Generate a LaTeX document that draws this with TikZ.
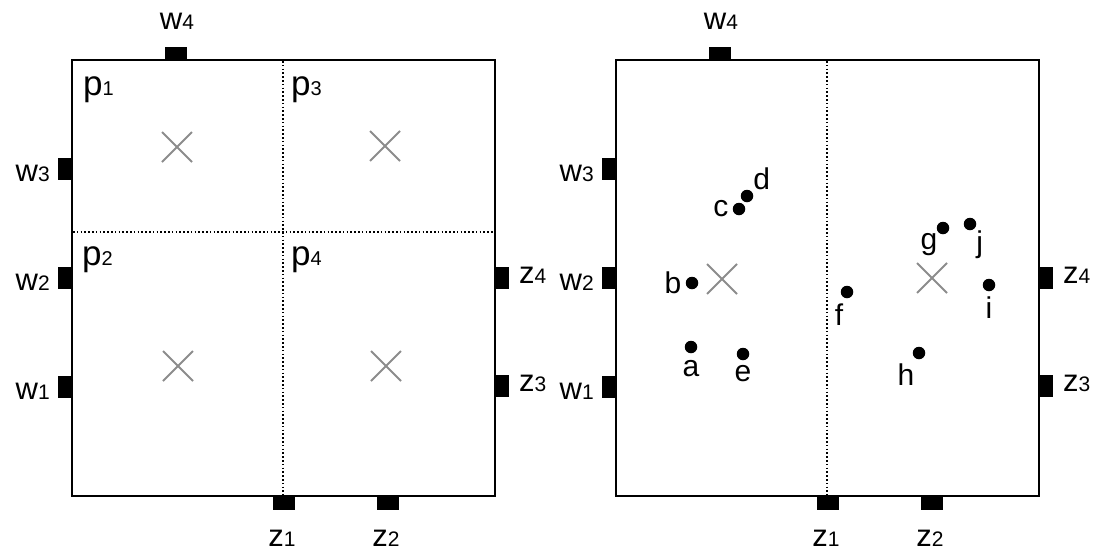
\documentclass[tikz,border=0pt]{standalone}
\usepackage{fontspec}
\setmainfont{Liberation Sans}
\usetikzlibrary{shapes.misc}

\newcommand{\portlab}[2]{#1{\fontsize{21}{21}\selectfont #2}}
\newcommand{\regionlab}[2]{#1{\fontsize{20}{20}\selectfont #2}}

\tikzset{
  frame/.style={line width=2.4pt},
  part/.style={line width=1.6pt, dash pattern=on 1.6pt off 2.2pt},
  hport/.style={fill=black, inner sep=0pt, minimum width=22pt, minimum height=13pt},
  vport/.style={fill=black, inner sep=0pt, minimum width=14pt, minimum height=22pt},
  portname/.style={inner sep=0pt, font=\fontsize{31}{31}\selectfont},
  region/.style={inner sep=0pt, font=\fontsize{35}{35}\selectfont},
  centre/.style={cross out, draw=black!45, line width=2pt, inner sep=0pt, minimum size=28pt},
  device/.style={circle, fill=black, inner sep=0pt, minimum size=12.5pt},
  devname/.style={inner sep=1pt, label distance=3pt, font=\fontsize{30}{30}\selectfont}
}

\begin{document}
\begin{tikzpicture}[x=1pt,y=-1pt]
  \useasboundingbox (0,0) rectangle (1102,552);

  \foreach \s/\side in {0/l,544/r}
  {
    % Frame and partition
    \draw[frame] (72+\s,60) rectangle (495+\s,496);
    \draw[part] (283+\s,61) -- (283+\s,495);

    % Top port
    \node[hport] (w4\side) at (176+\s,53.5) {};
    \node[portname,anchor=base] (w4\side-text) at (177+\s,29) {\portlab{w}{4}};

    % Left ports
    \foreach \i/\y in {3/169,2/278,1/387}
    {
      \node[vport] (w\i\side) at (65+\s,\y) {};
      \node[portname,anchor=base east] (w\i\side-text) at (50+\s,\y+12) {\portlab{w}{\i}};
    }

    % Right ports
    \foreach \i/\y in {4/278,3/386}
    {
      \node[vport] (z\i\side) at (501.5+\s,\y) {};
      \node[portname,anchor=base west] (z\i\side-text) at (519+\s,\y+5) {\portlab{z}{\i}};
    }

    % Bottom ports
    \foreach \i/\x in {1/284,2/388}
    {
      \node[hport] (z\i\side) at (\x+\s,503) {};
      \node[portname,anchor=base] (z\i\side-text) at (\x+\s-2,546) {\portlab{z}{\i}};
    }
  }

  % Four regions of the left room
  \draw[part] (73,232) -- (494,232);
  \node[region,anchor=base west] (p1) at (83,95) {\regionlab{p}{1}};
  \node[region,anchor=base west] (p3) at (291,95) {\regionlab{p}{3}};
  \node[region,anchor=base west] (p2) at (82,265) {\regionlab{p}{2}};
  \node[region,anchor=base west] (p4) at (291,265) {\regionlab{p}{4}};

  % Region centres
  \node[centre] (x1) at (177,147) {};
  \node[centre] (x3) at (385,146) {};
  \node[centre] (x2) at (178,366) {};
  \node[centre] (x4) at (386,366) {};
  \node[centre] (xl) at (722,279) {};
  \node[centre] (xr) at (932,278) {};

  % Devices in the right room
  \node[device,label={[devname,label distance=6pt]below:a}] (a) at (691,347) {};
  \node[device,label={[devname]left:b}] (b) at (692,283) {};
  \node[device,label={[devname]left:c}] (c) at (739,209) {};
  \node[device,label={[devname,label distance=1pt]above right:d}] (d) at (747,196) {};
  \node[device,label={[devname,label distance=4pt]below:e}] (e) at (743,354) {};
  \node[device,label={[devname,label distance=4pt]255:f}] (f) at (847,292) {};
  \node[device,label={[devname,label distance=0pt]below left:g}] (g) at (943,228) {};
  \node[device,label={[devname,label distance=4pt]250:h}] (h) at (919,353) {};
  \node[device,label={[devname,label distance=4pt]below:i}] (i) at (989,285) {};
  \node[device,label={[devname,label distance=1pt]-45:j}] (j) at (970,224) {};
\end{tikzpicture}
\end{document}
